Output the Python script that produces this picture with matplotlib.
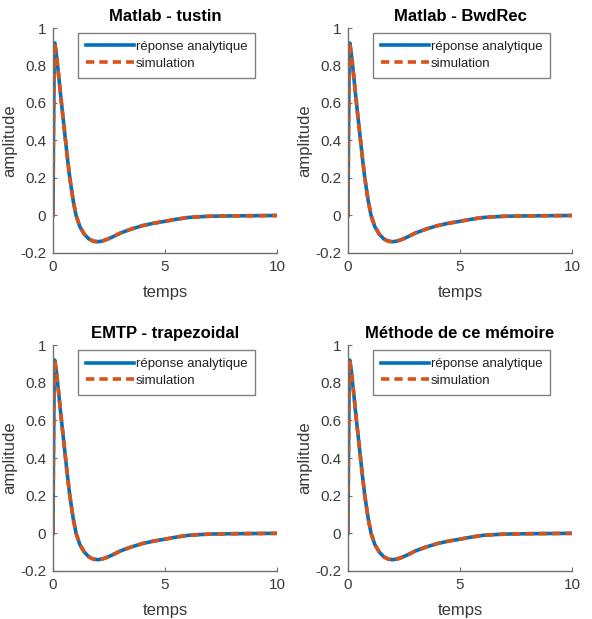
import matplotlib
matplotlib.use("Agg")
import matplotlib.pyplot as plt

plt.rcParams['font.family'] = ['Liberation Sans', 'DejaVu Sans']

# data
temps = [0.0, 0.02, 0.05, 0.08, 0.15, 0.25, 0.35, 0.45, 0.55, 0.65, 0.75, 0.9, 1.03,
         1.2, 1.4, 1.6, 1.8, 2.0, 2.2, 2.4, 2.7, 3.0, 3.5, 4.0, 4.5, 5.0, 5.5,
         6.0, 6.5, 7.0, 8.0, 9.0, 10.0]
analytique = [0.0, 0.40, 0.80, 0.92, 0.86, 0.75, 0.63, 0.52, 0.41, 0.30, 0.20, 0.08, 0.0,
              -0.06, -0.10, -0.125, -0.137, -0.14, -0.136, -0.128, -0.112, -0.094, -0.072,
              -0.054, -0.041, -0.031, -0.02, -0.011, -0.007, -0.004, -0.002, -0.001, 0.0]
simulation = analytique[:]

titles = ["Matlab - tustin", "Matlab - BwdRec", "EMTP - trapezoidal", "Méthode de ce mémoire"]
xticks = [0, 5, 10]
yticks = [-0.2, 0, 0.2, 0.4, 0.6, 0.8, 1]
ytick_labels = ["-0.2", "0", "0.2", "0.4", "0.6", "0.8", "1"]

blue = "#0072BD"
orange = "#D95319"
spine_c = "#707070"
text_c = "#3a3a3a"

fig = plt.figure(figsize=(5.92, 6.19), dpi=100)
positions = [
    (53/592, 1-253/619, 224/592, 225/619),
    (348/592, 1-253/619, 224/592, 225/619),
    (53/592, 1-571/619, 224/592, 226/619),
    (348/592, 1-571/619, 224/592, 226/619),
]

for pos, title in zip(positions, titles):
    ax = fig.add_axes(pos)
    ax.plot(temps, analytique, color=blue, lw=2.6, label="réponse analytique")
    ax.plot(temps, simulation, color=orange, lw=2.6, linestyle=(0, (2.3, 1.4)), label="simulation")
    ax.set_xlim(0, 10)
    ax.set_ylim(-0.2, 1)
    ax.set_xticks(xticks)
    ax.set_xticklabels([str(v) for v in xticks])
    ax.set_yticks(yticks)
    ax.set_yticklabels(ytick_labels)
    for s in ["top", "right"]:
        ax.spines[s].set_visible(False)
    for s in ["left", "bottom"]:
        ax.spines[s].set_color(spine_c)
        ax.spines[s].set_linewidth(1.0)
    ax.tick_params(direction="in", length=3, width=0.8, color=spine_c,
                   labelcolor=text_c, labelsize=11, pad=5)
    ax.set_xlabel("temps", fontsize=12, color=text_c, labelpad=8)
    ax.set_ylabel("amplitude", fontsize=12, color=text_c, labelpad=2)
    ax.set_title(title, fontsize=12, fontweight="bold", color="black", pad=5)
    leg = ax.legend(loc="upper right", bbox_to_anchor=(0.902, 0.978), borderaxespad=0,
                    fontsize=9.5, handlelength=3.6, handletextpad=0.15, labelspacing=0.35,
                    borderpad=0.6, fancybox=False, framealpha=1, edgecolor="#808080")
    leg.get_frame().set_linewidth(1.0)
    for t in leg.get_texts():
        t.set_color("#222222")

fig.savefig("out.png", dpi=100)
